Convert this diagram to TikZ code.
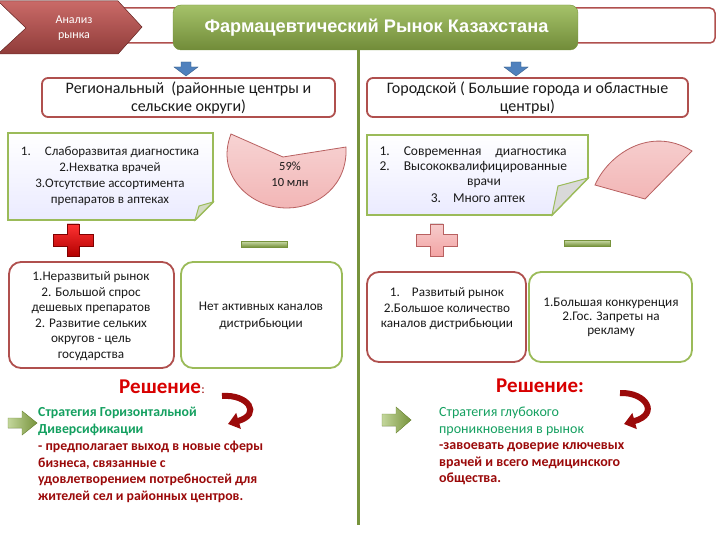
\documentclass[tikz,border=0pt]{standalone}
\usepackage{fontspec}
\setmainfont{Carlito}
\newfontfamily\titlefont{Liberation Sans}
\usetikzlibrary{arrows.meta}
\definecolor{boxred}{HTML}{B0504E}
\definecolor{boxgreen}{HTML}{9BBB59}
\definecolor{linegreen}{HTML}{77933C}
\definecolor{darkred}{HTML}{9B0A0A}
\definecolor{solred}{HTML}{D80000}
\definecolor{txtgreen}{HTML}{14A060}
\definecolor{pinkfill}{HTML}{F2B6B6}
\definecolor{pinkline}{HTML}{B86060}
\definecolor{blueArr}{HTML}{4F81BD}
\definecolor{txt}{HTML}{1A1A1A}
\definecolor{chev}{HTML}{C0504D}
\tikzset{
  redbox/.style={draw=boxred,line width=1.8pt,fill=white},
  greenbox/.style={draw=boxgreen,line width=1.8pt,fill=white},
  notebox/.style={draw=boxgreen,line width=1.8pt,top color=white,bottom color=white!92!blue},
  foldtri/.style={draw=boxgreen,line width=1pt,fill=gray!35!boxgreen!40},
  bluearrow/.style={fill=blueArr,draw=blueArr!70!black,line width=0.4pt},
  grarrow/.style={left color=boxgreen!60!white,right color=linegreen,draw=linegreen,line width=0.4pt},
  pinkshape/.style={top color=pinkfill!60!white,bottom color=pinkfill,draw=pinkline,line width=0.8pt},
  curvarrow/.style={draw=darkred,line width=6pt,-{Triangle[length=11pt,width=16pt]}},
  btxt/.style={text=txt,align=center,font=\fontsize{13.2}{15.5}\selectfont},
}
\begin{document}
\begin{tikzpicture}[x=1pt,y=-1pt]
\useasboundingbox[fill=white] (0,0) rectangle (720,540);
% header back frame
\draw[draw=boxred,line width=1.5pt,fill=white,rounded corners=5pt] (118,8) rectangle (715,43);
% chevron
\fill[top color=chev!85!white,bottom color=chev!75!black,draw=chev!60!black,line width=0.5pt]
  (-2,1) -- (118,1) -- (142,27) -- (118,54) -- (-2,54) -- (26,28) -- cycle;
\node[text=white,align=center,font=\fontsize{12}{15}\selectfont] (an) at (74,28) {Анализ\\рынка};
% title
\node[rounded corners=8pt,top color=boxgreen!90!white,bottom color=linegreen!95!black,draw=linegreen,
  minimum width=405pt,minimum height=45pt,inner sep=0pt] (title) at (375.5,27.5) {};
\node[text=white,font=\titlefont\bfseries\fontsize{18.2}{22}\selectfont] (tt) at (376.5,28) {Фармацевтический Рынок Казахстана};
% divider
\coordinate (dtop) at (358,50);
\coordinate (dbot) at (358,525);
\draw[linegreen,line width=3pt] (dtop) -- (dbot);
% blue arrows
\fill[bluearrow] (181,62) -- (191,62) -- (191,67) -- (198,67) -- (186,76) -- (174,67) -- (181,67) -- cycle;
\fill[bluearrow] (511,62) -- (521,62) -- (521,67) -- (528,67) -- (516,76) -- (504,67) -- (511,67) -- cycle;
% region boxes
\draw[redbox,rounded corners=6pt] (42,78) rectangle (335,117);
\node[text=txt,align=center,font=\fontsize{16}{18}\selectfont] (reg) at (188.5,97.5) {Региональный \ (районные центры и\\сельские округи)};
\draw[redbox,rounded corners=6pt] (367,78) rectangle (688,117);
\node[text=txt,align=center,font=\fontsize{16}{18}\selectfont] (city) at (527.5,97.5) {Городской ( Большие города и областные\\центры)};
% left note box
\draw[notebox] (8,133) -- (213,133) -- (213,202) -- (195,220) -- (8,220) -- cycle;
\draw[foldtri] (213,202) -- (195,220) -- (199,206) -- cycle;
\node[btxt,font=\fontsize{13}{16}\selectfont] (ln) at (110,176) {1.\hspace{14pt}Слаборазвитая диагностика\\2.Нехватка врачей\\3.Отсутствие ассортимента\\препаратов в аптеках};
% left pie
\path[pinkshape] (231,134) -- (283,157) -- (346,147) .. controls (348,185) and (318,208) .. (287,208) .. controls (250,208) and (215,175) .. (231,134) -- cycle;
\node[text=txt,align=center,font=\fontsize{12.5}{16}\selectfont] (pie) at (290,174) {59\%\\10 млн};
% right note box
\draw[notebox] (367,135) -- (588,135) -- (588,178) -- (552,215) -- (367,215) -- cycle;
\draw[foldtri,fill=gray!30] (588,178) -- (552,215) -- (558,186) -- cycle;
\node[text=txt,anchor=west,font=\fontsize{13.5}{16}\selectfont] (r1) at (376,152) {1.\hspace{14pt}Современная\hspace{14pt}диагностика};
\node[text=txt,anchor=west,font=\fontsize{13.5}{16}\selectfont] (r2) at (376,167) {2.\hspace{14pt}Высококвалифицированные};
\node[text=txt,font=\fontsize{13.5}{16}\selectfont] (r3) at (484,183) {врачи};
\node[text=txt,font=\fontsize{13.5}{16}\selectfont] (r4) at (478,198) {3.\hspace{12pt}Много аптек};
% right sector
\path[pinkshape] (595,185) .. controls (608,155) and (650,125) .. (692,151) -- (645,199) -- cycle;
% plus / minus
\fill[top color=red!80!white,bottom color=red!70!black,draw=red!50!black,line width=0.4pt]
  (67,224) -- (79,224) -- (79,234) -- (93,234) -- (93,246) -- (79,246) -- (79,256) -- (67,256) -- (67,246) -- (53,246) -- (53,234) -- (67,234) -- cycle;
\fill[top color=boxgreen!50!white,bottom color=linegreen,draw=linegreen,line width=0.4pt] (241,241) rectangle (287,247);
\fill[top color=pinkfill!70!white,bottom color=pinkfill!90!red,draw=pinkline,line width=0.4pt]
  (430,224) -- (443,224) -- (443,234) -- (457,234) -- (457,246) -- (443,246) -- (443,256) -- (430,256) -- (430,246) -- (416,246) -- (416,234) -- (430,234) -- cycle;
\fill[top color=boxgreen!50!white,bottom color=linegreen,draw=linegreen,line width=0.4pt] (564,240) rectangle (610,246);
% bottom boxes
\draw[redbox,rounded corners=12pt] (9,262) rectangle (174,368);
\node[btxt] (lb1) at (91,316) {1.Неразвитый рынок\\2. Большой спрос\\дешевых препаратов\\2. Развитие сельких\\округов - цель\\государства};
\draw[greenbox,rounded corners=12pt] (181,262) rectangle (342,368);
\node[btxt,font=\fontsize{13.2}{17}\selectfont] (lb2) at (261,316) {Нет активных каналов\\дистрибьюции};
\draw[redbox,rounded corners=12pt] (367,272) rectangle (526,362);
\node[btxt] (rb1) at (447,309) {1.\hspace{12pt}Развитый рынок\\2.Большое количество\\каналов дистрибьюции};
\draw[greenbox,rounded corners=12pt] (529,272) rectangle (692,362);
\node[btxt,font=\fontsize{13.2}{14}\selectfont] (rb2) at (611,317) {1.Большая конкуренция\\2.Гос. Запреты на\\рекламу};
% Решение
\node[text=solred,anchor=base west,font=\bfseries\fontsize{21}{24}\selectfont,inner sep=0pt] (sol1) at (119,393) {Решение};
\node[text=darkred,anchor=base west,font=\fontsize{13}{16}\selectfont,inner sep=0pt] (col1) at (sol1.base east) {:};
\node[text=solred,anchor=base west,font=\bfseries\fontsize{21}{24}\selectfont,inner sep=0pt] (sol2) at (496,392) {Решение:};
% curved arrows
\coordinate (ca1s) at (222,396);
\coordinate (ca1e) at (228,424);
\draw[curvarrow] (ca1s) .. controls (248,394) and (262,414) .. (ca1e);
\coordinate (ca2s) at (620,393);
\coordinate (ca2e) at (624,424);
\draw[curvarrow] (ca2s) .. controls (646,392) and (660,414) .. (ca2e);
% green arrows
\fill[grarrow] (8,418) -- (22,418) -- (22,411) -- (37,423) -- (22,435) -- (22,428) -- (8,428) -- cycle;
\fill[grarrow] (382,414) -- (396,414) -- (396,407) -- (411,420) -- (396,433) -- (396,426) -- (382,426) -- cycle;
% left text
\node[anchor=north west,align=left,inner sep=0pt,font=\bfseries\fontsize{13.8}{16.8}\selectfont] (lt) at (38,407)
 {\textcolor{txtgreen}{Стратегия Горизонтальной}\\\textcolor{txtgreen}{Диверсификации}\\\textcolor{darkred}{- предполагает выход в новые сферы}\\\textcolor{darkred}{бизнеса, связанные с}\\\textcolor{darkred}{удовлетворением потребностей для}\\\textcolor{darkred}{жителей сел и районных центров.}};
% right text
\node[anchor=north west,align=left,inner sep=0pt,font=\fontsize{14}{16.5}\selectfont] (rt) at (439,407)
 {\textcolor{txtgreen}{Стратегия глубокого}\\\textcolor{txtgreen}{проникновения в рынок}\\\textcolor{darkred}{\bfseries -завоевать доверие ключевых}\\\textcolor{darkred}{\bfseries врачей и всего медицинского}\\\textcolor{darkred}{\bfseries общества.}};
\end{tikzpicture}
\end{document}
